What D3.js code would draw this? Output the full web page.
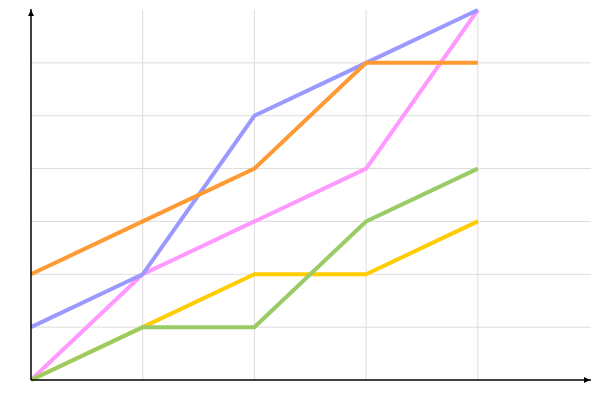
<!DOCTYPE html>
<html><head><meta charset="utf-8">
<script src="https://cdn.jsdelivr.net/npm/d3@7"></script>
<style>html,body{margin:0;padding:0;background:#fff}</style>
</head><body>
<svg id="c" width="600" height="400"></svg>
<script>
const xValues = [0, 1, 2, 3, 4];
const seriesNames = ["pink", "blue", "orange", "yellow", "green"];
const pinkValues = [0, 2, 3, 4, 7];
const blueValues = [1, 2, 5, 6, 7];
const orangeValues = [2, 3, 4, 6, 6];
const yellowValues = [0, 1, 2, 2, 3];
const greenValues = [0, 1, 1, 3, 4];
const colors = ["#ff99ff", "#9999ff", "#ff9933", "#ffcc00", "#99cc66"];
const xGridTicks = [1, 2, 3, 4];
const yGridTicks = [1, 2, 3, 4, 5, 6];

const series = [pinkValues, blueValues, orangeValues, yellowValues, greenValues];
const svg = d3.select("#c");
const x = d3.scaleLinear().domain([0, 5]).range([31, 589.5]);
const y = d3.scaleLinear().domain([0, 7]).range([380, 10]);

const grid = svg.append("g");
grid.selectAll("line.v").data(xGridTicks).join("line").attr("class","v")
  .attr("x1", d => x(d)).attr("x2", d => x(d)).attr("y1", y(0)).attr("y2", y(7))
  .attr("stroke", "#dddddd").attr("stroke-width", 1);
grid.selectAll("line.h").data(yGridTicks).join("line").attr("class","h")
  .attr("x1", x(0)).attr("x2", 591).attr("y1", d => y(d)).attr("y2", d => y(d))
  .attr("stroke", "#dddddd").attr("stroke-width", 1);

const line = d3.line().x((d, i) => x(xValues[i])).y(d => y(d));
svg.append("g").selectAll("path").data(series).join("path")
  .attr("d", d => line(d)).attr("fill", "none")
  .attr("stroke", (d, i) => colors[i]).attr("stroke-width", 4)
  .attr("stroke-linejoin", "miter").attr("stroke-linecap", "butt");

// axes
const ax = svg.append("g").attr("stroke", "#000");
ax.append("line").attr("x1", x(0)).attr("x2", 591).attr("y1", y(0)).attr("y2", y(0)).attr("stroke-width", 1.5);
ax.append("line").attr("x1", x(0)).attr("x2", x(0)).attr("y1", y(0)).attr("y2", 9).attr("stroke-width", 1.5);
svg.append("path").attr("d", `M${x(0)-3},${16} L${x(0)},${10} L${x(0)+3},${16} Z`).attr("fill", "#000");
svg.append("path").attr("d", `M584,${y(0)-3} L590,${y(0)} L584,${y(0)+3} Z`).attr("fill", "#000");
</script>
</body></html>
